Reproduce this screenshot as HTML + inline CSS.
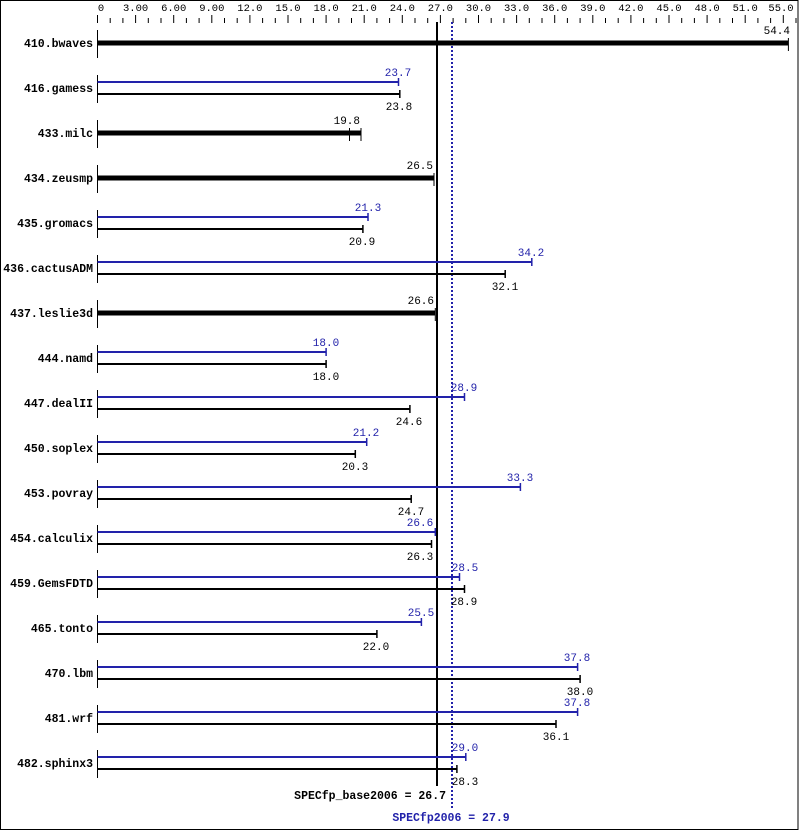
<!DOCTYPE html>
<html><head><meta charset="utf-8"><style>
html,body{margin:0;padding:0;background:#fff}
svg{display:block}
.t{font-family:"Liberation Mono","DejaVu Sans Mono",monospace;font-size:10.5px;fill:#000}
.v{font-size:11px}
.l{font-family:"Liberation Mono","DejaVu Sans Mono",monospace;font-size:11.5px;font-weight:bold;fill:#000}
.b{fill:#2222aa}
</style></head><body>
<svg width="799" height="831" viewBox="0 0 799 831" xmlns="http://www.w3.org/2000/svg">
<rect x="0.5" y="0.5" width="797.5" height="829" fill="#fff" stroke="#000" stroke-width="1"/>
<g stroke="#000" stroke-width="1">
<path d="M97.5 15V23M110.2 18V23M122.9 18V23M135.6 15V23M148.3 18V23M161 18V23M173.7 15V23M186.4 18V23M199.1 18V23M211.8 15V23M224.5 18V23M237.2 18V23M249.9 15V23M262.6 18V23M275.3 18V23M288 15V23M300.7 18V23M313.4 18V23M326.1 15V23M338.8 18V23M351.5 18V23M364.2 15V23M376.9 18V23M389.6 18V23M402.3 15V23M415 18V23M427.7 18V23M440.4 15V23M453.1 18V23M465.8 18V23M478.5 15V23M491.2 18V23M503.9 18V23M516.6 15V23M529.3 18V23M542 18V23M554.7 15V23M567.4 18V23M580.1 18V23M592.8 15V23M605.5 18V23M618.2 18V23M630.9 15V23M643.6 18V23M656.3 18V23M669 15V23M681.7 18V23M694.4 18V23M707.1 15V23M719.8 18V23M732.5 18V23M745.2 15V23M757.9 18V23M770.6 18V23M783.3 15V23M796 18V23"/>
</g>
<g class="t" text-anchor="middle">
<text x="101" y="11">0</text><text x="135.6" y="11">3.00</text><text x="173.7" y="11">6.00</text><text x="211.8" y="11">9.00</text><text x="249.9" y="11">12.0</text><text x="288" y="11">15.0</text><text x="326.1" y="11">18.0</text><text x="364.2" y="11">21.0</text><text x="402.3" y="11">24.0</text><text x="440.4" y="11">27.0</text><text x="478.5" y="11">30.0</text><text x="516.6" y="11">33.0</text><text x="554.7" y="11">36.0</text><text x="592.8" y="11">39.0</text><text x="630.9" y="11">42.0</text><text x="669" y="11">45.0</text><text x="707.1" y="11">48.0</text><text x="745.2" y="11">51.0</text><text x="781" y="11">55.0</text>
</g>
<line x1="437" y1="22" x2="437" y2="786" stroke="#000" stroke-width="2"/>
<line x1="452" y1="22" x2="452" y2="808" stroke="#2222aa" stroke-width="2" stroke-dasharray="2,2"/>
<g stroke="#000" stroke-width="1">
<path d="M97.5 30V58M97.5 75V103M97.5 120V148M97.5 165V193M97.5 210V238M97.5 255V283M97.5 300V328M97.5 345V373M97.5 390V418M97.5 435V463M97.5 480V508M97.5 525V553M97.5 570V598M97.5 615V643M97.5 660V688M97.5 705V733M97.5 750V778"/>
</g>
<g class="l" text-anchor="end">
<text x="93" y="47">410.bwaves</text><text x="93" y="92">416.gamess</text><text x="93" y="137">433.milc</text><text x="93" y="182">434.zeusmp</text><text x="93" y="227">435.gromacs</text><text x="93" y="272">436.cactusADM</text><text x="93" y="317">437.leslie3d</text><text x="93" y="362">444.namd</text><text x="93" y="407">447.dealII</text><text x="93" y="452">450.soplex</text><text x="93" y="497">453.povray</text><text x="93" y="542">454.calculix</text><text x="93" y="587">459.GemsFDTD</text><text x="93" y="632">465.tonto</text><text x="93" y="677">470.lbm</text><text x="93" y="722">481.wrf</text><text x="93" y="767">482.sphinx3</text>
</g>
<g stroke="#000">
<line x1="97.5" y1="43" x2="788.4" y2="43" stroke-width="5"/><line x1="788.4" y1="38" x2="788.4" y2="51"/>
<line x1="97.5" y1="133" x2="361" y2="133" stroke-width="5"/><line x1="349.5" y1="128" x2="349.5" y2="141"/><line x1="361" y1="128" x2="361" y2="141"/>
<line x1="97.5" y1="178" x2="434" y2="178" stroke-width="5"/><line x1="434" y1="173" x2="434" y2="186"/>
<line x1="97.5" y1="313" x2="435.3" y2="313" stroke-width="5"/><line x1="435.3" y1="308" x2="435.3" y2="321"/>
</g>
<g class="t v" text-anchor="end">
<text x="790" y="34">54.4</text><text x="360" y="124">19.8</text><text x="433" y="169">26.5</text><text x="434" y="304">26.6</text>
</g>
<g stroke="#2222aa" stroke-width="2">
<path d="M97.5 82H398.5M97.5 217H368M97.5 262H531.8M97.5 352H326.1M97.5 397H464.5M97.5 442H366.7M97.5 487H520.4M97.5 532H435.3M97.5 577H459.5M97.5 622H421.4M97.5 667H577.6M97.5 712H577.6M97.5 757H465.8"/>
</g>
<g stroke="#2222aa" stroke-width="1.5">
<path d="M398.5 78V86M368 213V221M531.8 258V266M326.1 348V356M464.5 393V401M366.7 438V446M520.4 483V491M435.3 528V536M459.5 573V581M421.4 618V626M577.6 663V671M577.6 708V716M465.8 753V761"/>
</g>
<g stroke="#000" stroke-width="2">
<path d="M97.5 94H399.8M97.5 229H362.9M97.5 274H505.2M97.5 364H326.1M97.5 409H409.9M97.5 454H355.3M97.5 499H411.2M97.5 544H431.5M97.5 589H464.5M97.5 634H376.9M97.5 679H580.1M97.5 724H556M97.5 769H456.9"/>
</g>
<g stroke="#000" stroke-width="1.5">
<path d="M399.8 90V98M362.9 225V233M505.2 270V278M326.1 360V368M409.9 405V413M355.3 450V458M411.2 495V503M431.5 540V548M464.5 585V593M376.9 630V638M580.1 675V683M556 720V728M456.9 765V773"/>
</g>
<g class="t v b" text-anchor="middle">
<text x="398" y="76">23.7</text><text x="368" y="211">21.3</text><text x="531" y="256">34.2</text><text x="326" y="346">18.0</text><text x="464" y="391">28.9</text><text x="366" y="436">21.2</text><text x="520" y="481">33.3</text><text x="420" y="526">26.6</text><text x="465" y="571">28.5</text><text x="421" y="616">25.5</text><text x="577" y="661">37.8</text><text x="577" y="706">37.8</text><text x="465" y="751">29.0</text>
</g>
<g class="t v" text-anchor="middle">
<text x="399" y="110">23.8</text><text x="362" y="245">20.9</text><text x="505" y="290">32.1</text><text x="326" y="380">18.0</text><text x="409" y="425">24.6</text><text x="355" y="470">20.3</text><text x="411" y="515">24.7</text><text x="420" y="560">26.3</text><text x="464" y="605">28.9</text><text x="376" y="650">22.0</text><text x="580" y="695">38.0</text><text x="556" y="740">36.1</text><text x="465" y="785">28.3</text>
</g>
<text class="l" x="446" y="799" text-anchor="end">SPECfp_base2006 = 26.7</text>
<text class="l b" x="451" y="821" text-anchor="middle">SPECfp2006 = 27.9</text>
</svg>
</body></html>
